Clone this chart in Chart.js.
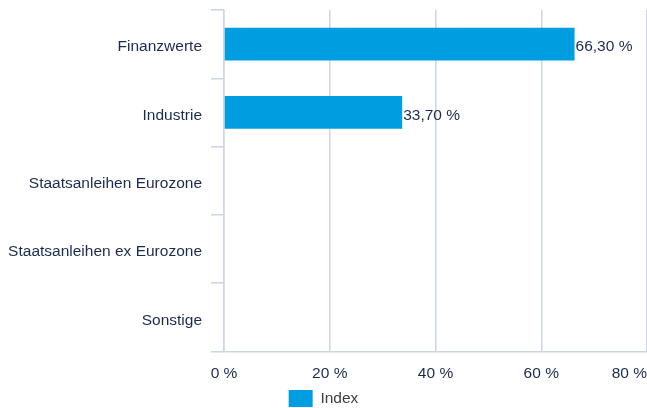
<!DOCTYPE html>
<html>
<head>
<meta charset="utf-8">
<script src="https://cdn.jsdelivr.net/npm/chart.js@4/dist/chart.umd.min.js"></script>
<style>
html,body{margin:0;padding:0;background:#fff;}
#wrap{width:647px;height:408px;position:relative;}
</style>
</head>
<body>
<div id="wrap"><canvas id="c"></canvas></div>
<script>
const categories = ["Finanzwerte", "Industrie", "Staatsanleihen Eurozone", "Staatsanleihen ex Eurozone", "Sonstige"];
const indexValues = [66.3, 33.7, 0, 0, 0];
const xTicks = [0, 20, 40, 60, 80];
const seriesName = "Index";

const FONT = "'Liberation Sans', Arial, Helvetica, sans-serif";
const TEXT = "#1b2b4e";
const GRID = "#cbd5e4";
const BAR = "#009ee0";

class EdgeLinear extends Chart.LinearScale {
  _computeLabelItems(chartArea) {
    const items = super._computeLabelItems(chartArea);
    if (items.length) {
      const last = items[items.length - 1];
      last.options.textAlign = 'right';
      last.options.translation = [this.right, last.options.translation[1]];
    }
    return items;
  }
}
EdgeLinear.id = 'edgeLinear';
EdgeLinear.defaults = Chart.LinearScale.defaults;
Chart.register(EdgeLinear);

const barLabels = {
  id: 'barLabels',
  afterDatasetsDraw(chart) {
    const ctx = chart.ctx;
    const meta = chart.getDatasetMeta(0);
    ctx.save();
    ctx.font = "15.5px " + FONT;
    ctx.fillStyle = TEXT;
    ctx.textAlign = 'left';
    ctx.textBaseline = 'middle';
    meta.data.forEach((bar, i) => {
      const v = indexValues[i];
      if (!v) return;
      ctx.fillText(v.toFixed(2).replace('.', ',') + ' %', bar.x + 1, bar.y + 3);
    });
    ctx.restore();
  }
};

new Chart(document.getElementById('c'), {
  type: 'bar',
  data: {
    labels: categories,
    datasets: [{
      label: seriesName,
      data: indexValues,
      backgroundColor: BAR,
      borderWidth: 0,
      categoryPercentage: 0.6,
      barPercentage: 0.8
    }]
  },
  options: {
    indexAxis: 'y',
    responsive: true,
    maintainAspectRatio: false,
    animation: false,
    layout: { padding: { top: 10, right: 0, left: 0, bottom: -9 } },
    plugins: {
      legend: {
        position: 'bottom',
        labels: {
          boxWidth: 24,
          boxHeight: 17,
          color: '#3d3d3d',
          font: { family: FONT, size: 15.5 },
          padding: 0
        }
      },
      tooltip: { enabled: false }
    },
    scales: {
      x: {
        type: 'edgeLinear',
        min: 0,
        max: 80,
        afterBuildTicks(scale) { scale.ticks = xTicks.map(v => ({ value: v })); },
        afterFit(scale) { scale.paddingRight = 0; scale.paddingLeft = 0; scale.height -= 6; },
        grid: { color: GRID, lineWidth: 1.5, drawTicks: false },
        border: { color: GRID, width: 1.5 },
        ticks: {
          color: TEXT,
          font: { family: FONT, size: 15.5 },
          padding: 13,
          callback: v => v + ' %'
        }
      },
      y: {
        type: 'category',
        afterFit(scale) { scale.width = 224; scale.paddingTop = 0; scale.paddingBottom = 0; },
        grid: { color: GRID, lineWidth: 1.5, offset: true, drawOnChartArea: false, drawTicks: true, tickLength: 13 },
        border: { color: GRID, width: 1.5 },
        ticks: {
          color: TEXT,
          font: { family: FONT, size: 15.5 },
          padding: 9,
          labelOffset: 3
        }
      }
    }
  },
  plugins: [barLabels]
});
</script>
</body>
</html>
